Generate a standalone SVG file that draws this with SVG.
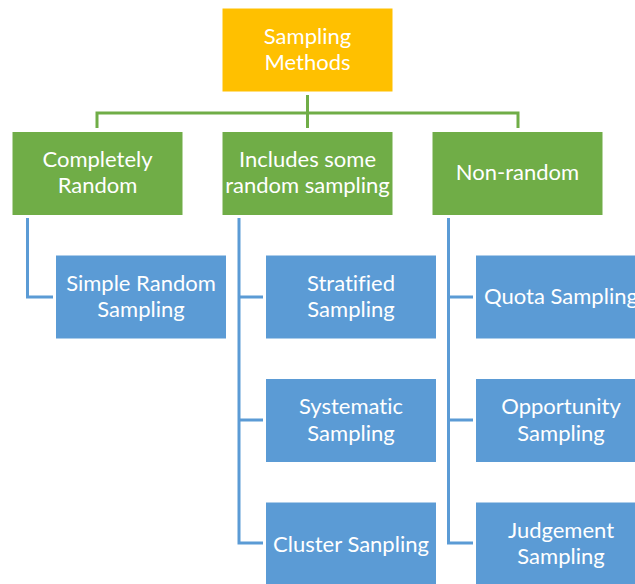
<svg xmlns="http://www.w3.org/2000/svg" width="635" height="584" viewBox="0 0 635 584">
<style>
.root{fill:#FFC000;stroke:#ffffff;stroke-width:1}
.cat{fill:#70AD47;stroke:#ffffff;stroke-width:1}
.leaf{fill:#5B9BD5;stroke:#ffffff;stroke-width:1}
.t{font-family:Lato,"Open Sans","Liberation Sans",sans-serif;font-size:22px;fill:#ffffff;text-anchor:middle;font-variant-ligatures:none}
.gc{fill:none;stroke:#70AD47;stroke-width:3}
.bc{fill:none;stroke:#5B9BD5;stroke-width:3}
</style>
<rect width="635" height="584" fill="#ffffff"/>
<g id="connectors">
<path class="gc" d="M307.5 95V128M97 128V113H518V128"/>
<path class="bc" d="M27.5 218V297H53"/>
<path class="bc" d="M239 218V543H263M239 297H263M239 420H263"/>
<path class="bc" d="M448.5 218V543H473M448.5 297H473M448.5 420H473"/>
</g>
<g id="root"><rect class="root" x="222" y="8" width="171" height="84"/><text class="t" x="307.5" y="44">Sampling</text><text class="t" x="307.5" y="70">Methods</text></g>
<g id="completely-random"><rect class="cat" x="12" y="131.5" width="171" height="84"/><text class="t" x="97.5" y="167">Completely</text><text class="t" x="97.5" y="193">Random</text></g>
<g id="includes-some"><rect class="cat" x="222" y="131.5" width="171" height="84"/><text class="t" x="307.5" y="167">Includes some</text><text class="t" x="307.5" y="193">random sampling</text></g>
<g id="non-random"><rect class="cat" x="432" y="131.5" width="171" height="84"/><text class="t" x="517.5" y="180">Non-random</text></g>
<g id="simple-random"><rect class="leaf" x="55.5" y="255" width="171" height="84"/><text class="t" x="141" y="291">Simple Random</text><text class="t" x="141" y="317">Sampling</text></g>
<g id="stratified"><rect class="leaf" x="265.5" y="255" width="171" height="84"/><text class="t" x="351" y="291">Stratified</text><text class="t" x="351" y="317">Sampling</text></g>
<g id="systematic"><rect class="leaf" x="265.5" y="378.5" width="171" height="84"/><text class="t" x="351" y="414">Systematic</text><text class="t" x="351" y="441">Sampling</text></g>
<g id="cluster"><rect class="leaf" x="265.5" y="502" width="171" height="84"/><text class="t" x="351" y="552">Cluster Sanpling</text></g>
<g id="quota"><rect class="leaf" x="475.5" y="255" width="171" height="84"/><text class="t" x="561" y="304">Quota Sampling</text></g>
<g id="opportunity"><rect class="leaf" x="475.5" y="378.5" width="171" height="84"/><text class="t" x="561" y="414">Opportunity</text><text class="t" x="561" y="441">Sampling</text></g>
<g id="judgement"><rect class="leaf" x="475.5" y="502" width="171" height="84"/><text class="t" x="561" y="538">Judgement</text><text class="t" x="561" y="564">Sampling</text></g>
</svg>
